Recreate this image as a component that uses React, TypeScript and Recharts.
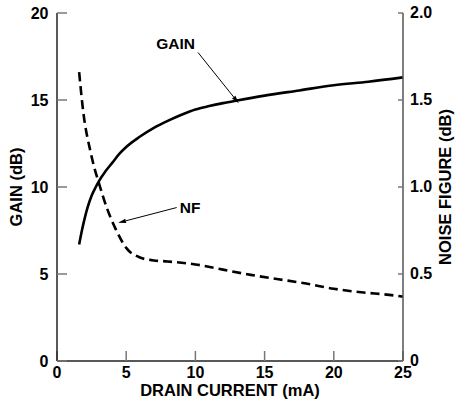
import React from 'react';
import { LineChart, Line, XAxis, YAxis, ReferenceLine, Label } from 'recharts';

// drain current (mA) vs gain (dB)
const gainCurrent = [1.6, 1.8, 2, 2.2, 2.5, 2.8, 3, 3.5, 4, 4.5, 5, 6, 7, 8, 9, 10, 11, 12, 13, 15, 17.5, 20, 22.5, 25];
const gainValues = [6.7, 7.5, 8.2, 8.8, 9.5, 10.0, 10.3, 10.9, 11.4, 11.9, 12.3, 12.9, 13.4, 13.8, 14.15, 14.45, 14.65, 14.82, 14.97, 15.25, 15.55, 15.85, 16.05, 16.3];

// drain current (mA) vs noise figure (dB)
const nfCurrent = [1.6, 1.9, 2.4, 2.7, 3, 3.6, 4.2, 5, 6, 7, 8, 10, 12, 14, 16, 18, 20, 22, 24, 25];
const nfValues = [1.66, 1.43, 1.21, 1.11, 1.03, 0.88, 0.765, 0.65, 0.595, 0.578, 0.572, 0.555, 0.525, 0.495, 0.47, 0.445, 0.415, 0.395, 0.38, 0.37];

const xTicks = [0, 5, 10, 15, 20, 25];
const topTicks = [1, 2, 3, 4, 5, 6].map((k) => (25 * k) / 7);
const gainTicks = [0, 5, 10, 15, 20];
const nfTicks = [0, 0.5, 1, 1.5, 2];

const gainData = gainCurrent.map((x, i) => ({ x, y: gainValues[i] }));
const nfData = nfCurrent.map((x, i) => ({ x, y: nfValues[i] }));

const FONT = '"Liberation Sans", Arial, sans-serif';
const tickStyle = { fontFamily: FONT, fontWeight: 700, fontSize: 16, fill: '#000' };
const noteStyle = { fontFamily: FONT, fontWeight: 700, fontSize: 15.5, fill: '#000' };
const titleStyle = { fontFamily: FONT, fontWeight: 700, fontSize: 16.5, fill: '#000' };

const axisLine = { stroke: '#222', strokeWidth: 1.5 };
const frameLine = { stroke: '#555', strokeWidth: 1.5 };
const tickLine = { stroke: '#777', strokeWidth: 1.5 };

// tick label drawn in solid black
function tickText(dy: string, fmt: (v: number) => string = (v) => String(v)) {
  return (props: any) => (
    <g>
      <text
        x={props.x}
        y={props.y}
        dy={dy}
        textAnchor={props.textAnchor}
        fill="#000"
        fontWeight="bold"
        fontSize={16}
        fontFamily={FONT}
        style={tickStyle}
      >
        {fmt(props.payload.value)}
      </text>
    </g>
  );
}

// arrow annotation: text at the start, arrowhead at the end
function arrow(text: string, anchor: 'start' | 'end', dx: number, dy: number) {
  return (props: any) => {
    const { x1, y1, x2, y2 } = props;
    const ang = Math.atan2(y2 - y1, x2 - x1);
    const len = 8;
    const w = 2.2;
    const bx = x2 - len * Math.cos(ang);
    const by = y2 - len * Math.sin(ang);
    const px = -Math.sin(ang) * w;
    const py = Math.cos(ang) * w;
    return (
      <g>
        <line x1={x1} y1={y1} x2={bx} y2={by} stroke="#000" strokeWidth={1} />
        <polygon points={`${x2},${y2} ${bx + px},${by + py} ${bx - px},${by - py}`} fill="#000" />
        <text x={x1 + dx} y={y1 + dy} textAnchor={anchor} style={noteStyle}>
          {text}
        </text>
      </g>
    );
  };
}

export default function App() {
  return (
    <div style={{ position: 'absolute', left: 0, top: 0, background: '#fff' }}>
      <LineChart width={455} height={400} margin={{ top: 13, right: 0, bottom: 0, left: 0 }}>
        <XAxis
          dataKey="x"
          type="number"
          domain={[0, 25]}
          ticks={xTicks}
          height={39}
          axisLine={axisLine}
          tickLine={tickLine}
          tickSize={-10}
          tickMargin={15.5}
          tick={tickText('0.71em')}
          label={
            <Label
              content={({ viewBox }: any) => (
                <text x={viewBox.x + viewBox.width / 2} y={viewBox.y + viewBox.height - 4} textAnchor="middle" style={titleStyle}>
                  DRAIN CURRENT (mA)
                </text>
              )}
            />
          }
        />
        <XAxis
          xAxisId="top"
          orientation="top"
          dataKey="x"
          type="number"
          domain={[0, 25]}
          ticks={topTicks}
          height={0}
          axisLine={frameLine}
          tickLine={tickLine}
          tickSize={-7}
          tickFormatter={() => ''}
        />
        <YAxis
          yAxisId="left"
          type="number"
          domain={[0, 20]}
          ticks={gainTicks}
          width={57}
          axisLine={axisLine}
          tickLine={tickLine}
          tickSize={-10}
          tickMargin={18.5}
          tick={tickText('0.4em')}
          label={
            <Label
              content={({ viewBox }: any) => {
                const cy = viewBox.y + viewBox.height / 2;
                return (
                  <text x={22} y={cy} transform={`rotate(-90, 22, ${cy})`} textAnchor="middle" style={titleStyle}>
                    GAIN (dB)
                  </text>
                );
              }}
            />
          }
        />
        <YAxis
          yAxisId="right"
          orientation="right"
          type="number"
          domain={[0, 2]}
          ticks={nfTicks}
          width={52}
          axisLine={frameLine}
          tickLine={tickLine}
          tickSize={-5}
          tickMargin={12}
          tick={tickText('0.3em', (v) => (v === 0 ? '0' : v.toFixed(1)))}
          label={
            <Label
              content={({ viewBox }: any) => {
                const cy = viewBox.y + viewBox.height / 2;
                const lx = viewBox.x + viewBox.width - 4;
                return (
                  <text x={lx} y={cy} transform={`rotate(-90, ${lx}, ${cy})`} textAnchor="middle" style={titleStyle}>
                    NOISE FIGURE (dB)
                  </text>
                );
              }}
            />
          }
        />
        <Line
          yAxisId="left"
          data={gainData}
          dataKey="y"
          type="monotone"
          stroke="#000"
          strokeWidth={2.6}
          dot={false}
          activeDot={false}
          isAnimationActive={false}
        />
        <Line
          yAxisId="right"
          data={nfData}
          dataKey="y"
          type="monotone"
          stroke="#000"
          strokeWidth={2.6}
          strokeDasharray="9 5"
          dot={false}
          activeDot={false}
          isAnimationActive={false}
        />
        <ReferenceLine
          yAxisId="left"
          segment={[{ x: 10.19, y: 17.73 }, { x: 13.13, y: 14.81 }]}
          ifOverflow="visible"
          shape={arrow('GAIN', 'end', -3, -3)}
        />
        <ReferenceLine
          yAxisId="left"
          segment={[{ x: 8.65, y: 8.82 }, { x: 4.41, y: 7.94 }]}
          ifOverflow="visible"
          shape={arrow('NF', 'start', 3, 5.5)}
        />
      </LineChart>
    </div>
  );
}
